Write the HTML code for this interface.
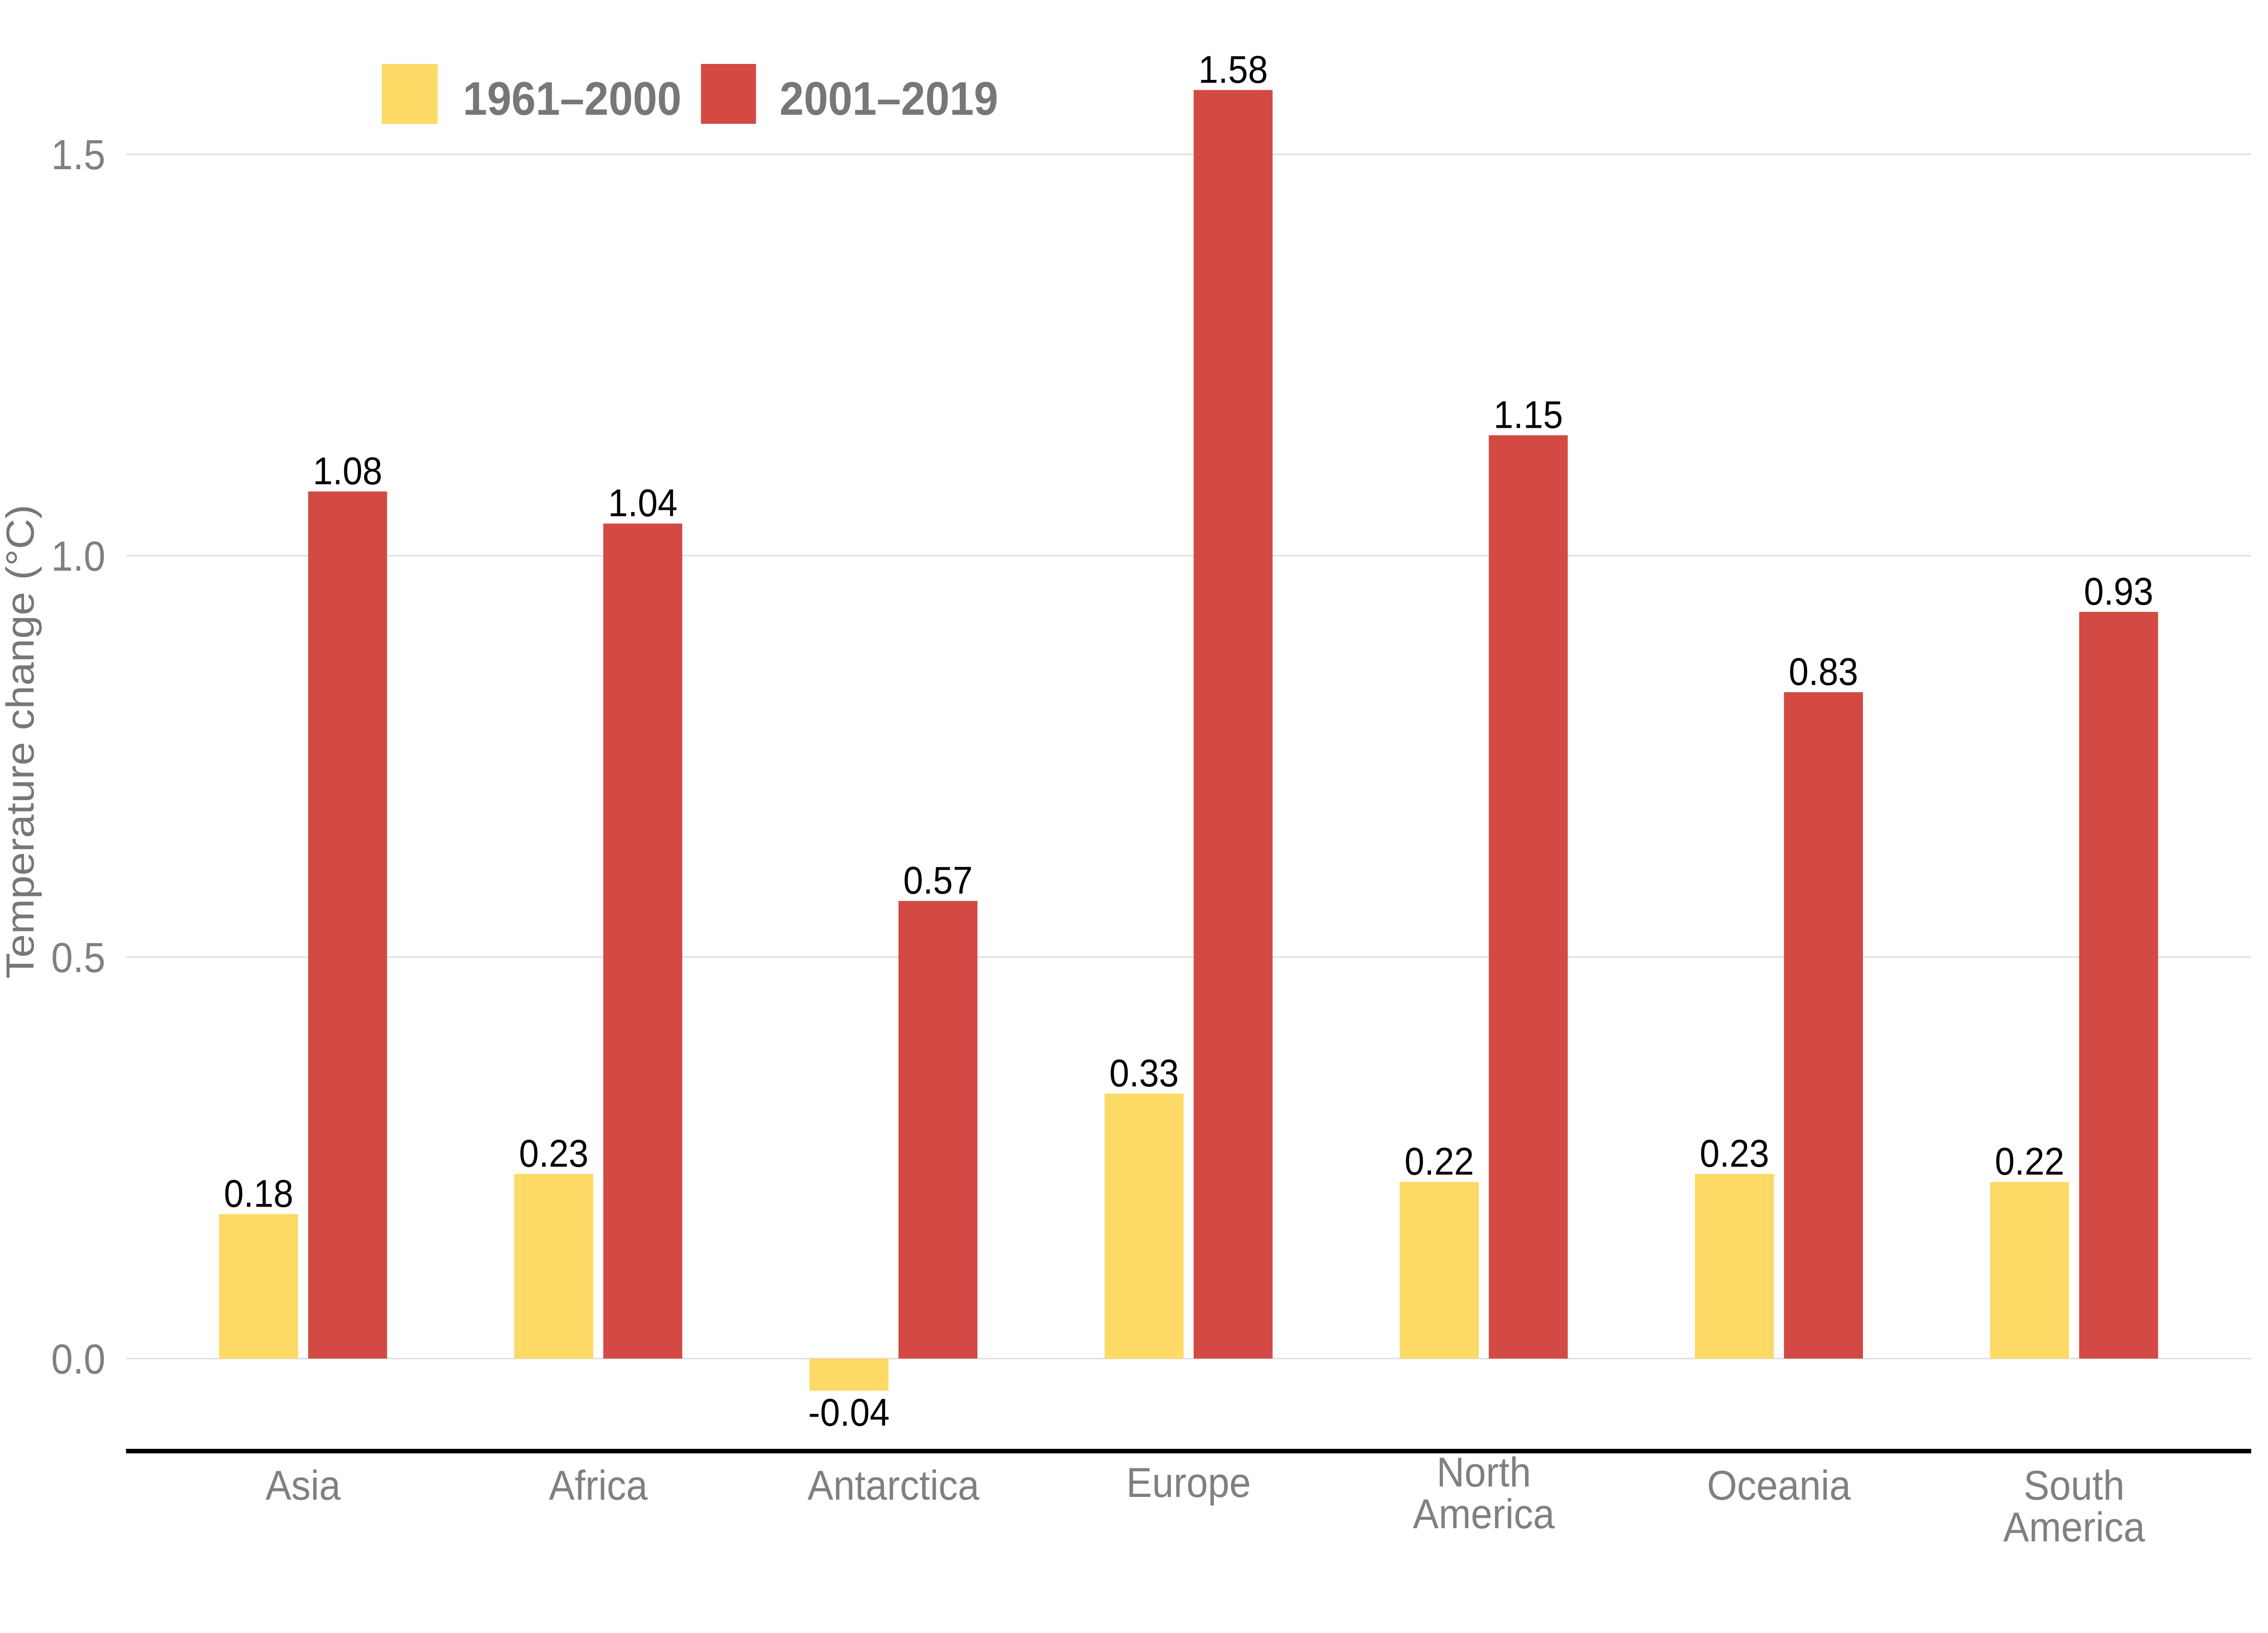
<!DOCTYPE html>
<html><head><meta charset="utf-8">
<style>
html,body{margin:0;padding:0;background:#fff;width:100%;height:100%;overflow:hidden;}
svg{display:block;width:100vw;height:100vh;font-family:"Liberation Sans",Arial,sans-serif;}
</style></head>
<body>
<svg id="chart" viewBox="0 0 5400 3600" preserveAspectRatio="none" xmlns="http://www.w3.org/2000/svg">
  <rect x="0" y="0" width="5400" height="3600" fill="#fff"/>
  <g id="grid"></g>
  <g id="yticks"></g>
  <g id="bars"></g>
  <g id="vlabels"></g>
  <line x1="300" x2="5360" y1="3199" y2="3199" stroke="#000" stroke-width="10"/>
  <g id="xlabels"></g>
  <text transform="translate(80,1635) rotate(-90)" text-anchor="middle" font-size="93" fill="#777">Temperature change (°C)</text>
  <g>
    <rect x="909" y="141" width="133" height="132" fill="#FDD966"/>
    <text x="1102" y="253" font-size="104" font-weight="bold" fill="#777">1961–2000</text>
    <rect x="1669" y="141" width="131" height="132" fill="#D24A43"/>
    <text x="1856" y="253" font-size="104" font-weight="bold" fill="#777">2001–2019</text>
  </g>
</svg>
<script>
const categories = ["Asia","Africa","Antarctica","Europe","North America","Oceania","South America"];
const series1961 = [0.18,0.23,-0.04,0.33,0.22,0.23,0.22];
const series2001 = [1.08,1.04,0.57,1.58,1.15,0.83,0.93];
const yTicks = [0.0,0.5,1.0,1.5];
const yTickLabels = ["0.0","0.5","1.0","1.5"];

const NS = "http://www.w3.org/2000/svg";
const X0 = 300, X1 = 5360;
const band = (X1 - X0) / (categories.length - 1 + 1.2);
function xScale(i){ return X0 + band * (0.6 + i); }
const Y0 = 2995, K = 1770;
function yScale(v){ return Y0 - v * K; }
function mk(tag, attrs, parent){ const e = document.createElementNS(NS, tag); for (const k in attrs) e.setAttribute(k, attrs[k]); parent.appendChild(e); return e; }

const grid = document.getElementById('grid');
const yt = document.getElementById('yticks');
yTicks.forEach((t, i) => {
  const l = mk('line', {x1: X0, x2: X1, y1: yScale(t), y2: yScale(t), stroke: '#dcdcdc', 'stroke-width': 3}, grid);
  
  
  const tx = mk('text', {x: 251, y: yScale(t) + 33, 'text-anchor': 'end', 'font-size': 93, fill: '#808080'}, yt);
  tx.textContent = yTickLabels[i];
  
  
});

const bars = document.getElementById('bars');
const vl = document.getElementById('vlabels');
const BW = 188, GAP = 12;
function drawBar(i, v, left, color, key){
  const c = xScale(i);
  const x = left ? c - GAP - BW : c + GAP;
  const top = Math.min(yScale(v), Y0), h = Math.abs(yScale(v) - Y0);
  const r = mk('rect', {x: x, y: top, width: BW, height: h, fill: color}, bars);
  
  
  const ly = v >= 0 ? yScale(v) - 16 : yScale(v) + 77;
  const t = mk('text', {x: x + BW / 2, y: ly, 'text-anchor': 'middle', 'font-size': 85, fill: '#000'}, vl);
  t.textContent = v.toFixed(2);
  
  
}
categories.forEach((c, i) => {
  drawBar(i, series1961[i], true, '#FDD966', '1961-2000');
  drawBar(i, series2001[i], false, '#D24A43', '2001-2019');
});

const xl = document.getElementById('xlabels');
categories.forEach((c, i) => {
  const parts = c.split(' ');
  const t = mk('text', {x: xScale(i), 'text-anchor': 'middle', 'font-size': 92, fill: '#808080'}, xl);
  
  
  let base;
  if (parts.length === 1) base = (c === 'Europe') ? 3300 : 3306;
  else base = (c === 'North America') ? 3277 : 3306;
  parts.forEach((p, j) => {
    const s = mk('tspan', {x: xScale(i), y: base + j * 92}, t);
    s.textContent = p;
  });
});
</script>
</body></html>
